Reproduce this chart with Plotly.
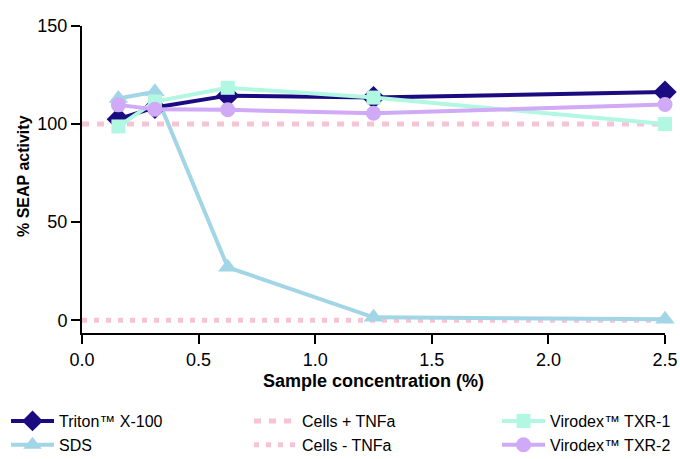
import plotly.graph_objects as go

conc = [0.156, 0.3125, 0.625, 1.25, 2.5]
triton = [102.5, 108.5, 114.5, 113.5, 116.3]
sds = [113, 116.5, 27, 1.5, 0.5]
txr1 = [98.8, 111.5, 118.5, 113.5, 100]
txr2 = [109.8, 107.5, 107.3, 105.5, 110]
ctrl_x = [0, 2.5]
cells_plus = [100, 100]
cells_minus = [0, 0]

NAVY = "#1b0b80"
SKY = "#a2d6e6"
MINT = "#b2f7e2"
LILAC = "#d0a9f7"
PINK = "#f7c3d6"

fig = go.Figure()
fig.add_trace(go.Scatter(x=ctrl_x, y=cells_plus, name="Cells + TNFa", mode="lines",
                         line=dict(color=PINK, width=5, dash="7px,8px"), legend="legend2",
                         legendgroup="cp", legendrank=1, cliponaxis=False))
fig.add_trace(go.Scatter(x=ctrl_x, y=cells_minus, name="Cells - TNFa", mode="lines",
                         line=dict(color=PINK, width=5, dash="5px,7px"), legend="legend2",
                         legendgroup="cm", legendrank=2, cliponaxis=False))
fig.add_trace(go.Scatter(x=conc, y=sds, name="SDS", mode="lines+markers",
                         line=dict(color=SKY, width=4),
                         marker=dict(symbol="triangle-up", size=17, color=SKY), legend="legend",
                         legendgroup="sds", legendrank=2, cliponaxis=False))
fig.add_trace(go.Scatter(x=conc, y=triton, name="Triton™ X-100", mode="lines+markers",
                         line=dict(color=NAVY, width=4),
                         marker=dict(symbol="diamond", size=18, color=NAVY), legend="legend",
                         legendgroup="tri", legendrank=1, cliponaxis=False))
fig.add_trace(go.Scatter(x=conc, y=txr1, name="Virodex™ TXR-1", mode="lines+markers",
                         line=dict(color=MINT, width=4),
                         marker=dict(symbol="square", size=14, color=MINT), legend="legend3",
                         legendgroup="t1", legendrank=1, cliponaxis=False))
fig.add_trace(go.Scatter(x=conc, y=txr2, name="Virodex™ TXR-2", mode="lines+markers",
                         line=dict(color=LILAC, width=4),
                         marker=dict(symbol="circle", size=15, color=LILAC), legend="legend3",
                         legendgroup="t2", legendrank=2, cliponaxis=False))

leg_common = dict(xref="container", yref="container", xanchor="left", yanchor="top",
                  y=1 - 404 / 459, font=dict(size=16), traceorder="normal",
                  bgcolor="rgba(0,0,0,0)", itemwidth=43, tracegroupgap=6)

fig.update_layout(
    width=680, height=459,
    margin=dict(l=82, r=15, t=26, b=126, autoexpand=False),
    paper_bgcolor="white", plot_bgcolor="white",
    font=dict(family="Arial, Liberation Sans, sans-serif", size=16, color="black"),
    showlegend=True,
    legend=dict(x=6 / 680, **leg_common),
    legend2=dict(x=249 / 680, **leg_common),
    legend3=dict(x=497 / 680, **leg_common),
    annotations=[dict(text="<b>% SEAP activity</b>", textangle=-90,
                      xref="paper", yref="paper", x=(23 - 82) / 583, y=(333 - 176) / 307,
                      xanchor="center", yanchor="middle", showarrow=False,
                      font=dict(size=16))],
)
fig.update_xaxes(range=[0, 2.5], tickvals=[0, 0.5, 1.0, 1.5, 2.0, 2.5],
                 ticktext=["0.0", "0.5", "1.0", "1.5", "2.0", "2.5"],
                 tickfont=dict(size=18),
                 showline=True, linecolor="black", linewidth=2, ticks="outside",
                 ticklen=9, tickwidth=2, tickcolor="black", showgrid=False, zeroline=False,
                 title=dict(text="<b>Sample concentration (%)</b>", font=dict(size=18), standoff=6))
fig.update_yaxes(range=[-6.5, 150], tickvals=[0, 50, 100, 150],
                 tickfont=dict(size=18),
                 showline=True, linecolor="black", linewidth=2, ticks="outside",
                 ticklen=9, tickwidth=2, tickcolor="black", showgrid=False, zeroline=False)

fig.write_html("out.html")
